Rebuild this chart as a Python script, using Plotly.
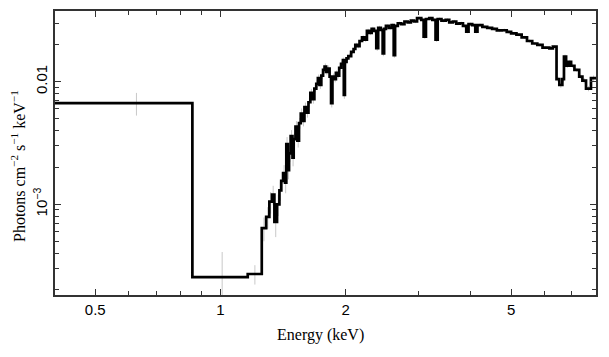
import plotly.graph_objects as go

# Bin edges (keV), N+1 values
energy_edges = [
    0.400, 0.856, 1.163, 1.257,
    1.288, 1.311, 1.330, 1.348, 1.368, 1.386, 1.400, 1.415, 1.430, 1.440,
    1.452, 1.462, 1.475, 1.490, 1.500, 1.515, 1.531, 1.545, 1.560, 1.575,
    1.592, 1.610, 1.628, 1.645, 1.664, 1.682, 1.700, 1.715, 1.730, 1.748,
    1.765, 1.780, 1.795, 1.810, 1.830, 1.845, 1.859, 1.880, 1.895, 1.911,
    1.930, 1.950, 1.970, 1.980, 1.992, 2.010, 2.030, 2.062, 2.090, 2.110,
    2.134, 2.160, 2.190, 2.219, 2.250, 2.281, 2.310, 2.340, 2.370, 2.395,
    2.430, 2.455, 2.475, 2.500, 2.540, 2.580, 2.610, 2.630, 2.670, 2.720,
    2.770, 2.820, 2.870, 2.920, 2.970, 3.040, 3.080, 3.120, 3.180, 3.233,
    3.290, 3.330, 3.400, 3.480, 3.550, 3.620, 3.690, 3.760, 3.830, 3.900,
    3.950, 4.030, 4.100, 4.150, 4.265, 4.380, 4.500, 4.620, 4.750, 4.880,
    5.000, 5.150, 5.300, 5.460, 5.620, 5.780, 5.950, 6.180, 6.300, 6.430,
    6.530, 6.640, 6.700, 6.780, 6.870, 6.970, 7.100, 7.290, 7.420, 7.570,
    7.780, 8.000,
]

# Flux per bin (photons cm^-2 s^-1 keV^-1)
flux = [
    6.7e-3, 2.55e-4, 2.7e-4,
    6.4e-4, 7.9e-4, 1.05e-3, 1.2e-3, 7.2e-4, 1.0e-3, 1.3e-3, 1.55e-3, 1.8e-3, 1.5e-3,
    3.1e-3, 1.9e-3, 2.6e-3, 3.6e-3, 2.4e-3, 3.4e-3, 4.3e-3, 3.3e-3, 4.6e-3, 5.5e-3,
    4.8e-3, 6.2e-3, 5.6e-3, 6.8e-3, 8.1e-3, 7.2e-3, 8.8e-3, 9.6e-3, 1.07e-2, 9.4e-3,
    1.12e-2, 1.25e-2, 1.33e-2, 1.2e-2, 1.28e-2, 1.1e-2, 6.7e-3, 1.1e-2, 1.05e-2, 1.18e-2,
    1.12e-2, 1.3e-2, 1.4e-2, 1.5e-2, 7.8e-3, 1.45e-2, 1.55e-2, 1.62e-2, 1.75e-2, 1.85e-2,
    2.0e-2, 1.95e-2, 2.15e-2, 2.3e-2, 2.2e-2, 2.6e-2, 2.5e-2, 2.7e-2, 2.6e-2, 1.88e-2,
    2.75e-2, 2.65e-2, 1.7e-2, 2.7e-2, 2.85e-2, 2.75e-2, 2.9e-2, 1.65e-2, 2.85e-2, 3.0e-2,
    2.95e-2, 3.1e-2, 3.05e-2, 3.15e-2, 3.1e-2, 3.3e-2, 3.2e-2, 2.33e-2, 3.25e-2, 3.3e-2,
    3.2e-2, 2.2e-2, 3.25e-2, 3.15e-2, 3.2e-2, 3.05e-2, 3.1e-2, 2.98e-2, 3.0e-2, 2.85e-2,
    2.56e-2, 2.95e-2, 2.9e-2, 2.56e-2, 2.9e-2, 2.8e-2, 2.75e-2, 2.7e-2, 2.62e-2, 2.63e-2,
    2.55e-2, 2.48e-2, 2.42e-2, 2.3e-2, 2.15e-2, 2.05e-2, 2.0e-2, 1.9e-2, 1.87e-2, 1.93e-2,
    1.05e-2, 9.4e-3, 1.05e-2, 1.6e-2, 1.35e-2, 1.45e-2, 1.35e-2, 1.25e-2, 1.1e-2, 1.02e-2,
    8.8e-3, 1.07e-2,
]

# 1-sigma error per bin, percent of flux
flux_err_pct = [
    21, 60, 18,
    22, 20, 20, 18, 25, 20, 18, 18, 16, 18,
    14, 16, 15, 12, 15, 12, 11, 12, 10, 10,
    10, 9, 9, 9, 8, 8, 7, 7, 7, 7,
    6, 6, 6, 6, 6, 6, 8, 6, 6, 5,
    5, 5, 5, 5, 7, 5, 5, 5, 4, 4,
    4, 4, 4, 4, 4, 4, 4, 4, 4, 5,
    4, 4, 5, 4, 3, 3, 3, 5, 3, 3,
    3, 3, 3, 3, 3, 3, 3, 4, 3, 3,
    3, 4, 3, 3, 3, 3, 3, 3, 3, 3,
    3, 3, 3, 3, 3, 3, 3, 3, 3, 3,
    3, 3, 3, 3, 3, 3, 3, 3, 3, 3,
    5, 5, 5, 4, 4, 4, 4, 4, 4, 5,
    5, 5,
]

x_major = [0.5, 1, 2, 5]
x_major_text = ["0.5", "1", "2", "5"]
x_minor = [0.4, 0.6, 0.7, 0.8, 0.9, 3, 4, 6, 7, 8]
y_major = [1e-3, 1e-2]
y_major_text = ["10<sup>\u22123</sup>", "0.01"]
y_minor = [2e-4, 3e-4, 4e-4, 5e-4, 6e-4, 7e-4, 8e-4, 9e-4,
           2e-3, 3e-3, 4e-3, 5e-3, 6e-3, 7e-3, 8e-3, 9e-3, 2e-2, 3e-2]

x_title = "Energy (keV)"
y_title = "Photons cm<sup>\u22122</sup> s<sup>\u22121</sup> keV<sup>\u22121</sup>"

# step line
step_x = list(energy_edges)
step_y = list(flux) + [flux[-1]]

centers = [(energy_edges[i] + energy_edges[i + 1]) / 2 for i in range(len(flux))]
err_abs = [f * p / 100 for f, p in zip(flux, flux_err_pct)]

fig = go.Figure()
fig.add_trace(go.Scatter(
    x=centers, y=flux, mode="markers",
    marker=dict(size=0.1, color="rgba(0,0,0,0)"),
    error_y=dict(type="data", array=err_abs, arrayminus=err_abs, visible=True,
                 color="#c8c8c8", thickness=1, width=0),
    hoverinfo="skip", showlegend=False,
))
fig.add_trace(go.Scatter(
    x=step_x, y=step_y, mode="lines",
    line=dict(shape="hv", color="black", width=2.7),
    showlegend=False,
))

axis_common = dict(
    showgrid=False, zeroline=False, automargin=False,
    showline=True, linecolor="#333333", linewidth=1.5, mirror="ticks",
    ticks="inside", ticklen=6, tickwidth=1.3, tickcolor="#333333",
    tickfont=dict(family="Liberation Sans, Arial, sans-serif", size=15, color="black"),
)

fig.update_xaxes(
    type="log", range=[0.6021 - 1, 0.9031],
    tickmode="array", tickvals=x_major, ticktext=x_major_text,
    minor=dict(tickmode="array", tickvals=x_minor, ticks="inside", ticklen=4,
               tickwidth=1.2, tickcolor="#333333", showgrid=False),
    **axis_common,
)
fig.update_yaxes(
    type="log", range=[-3.74, -1.423],
    tickmode="array", tickvals=y_major, ticktext=y_major_text, tickangle=-90,
    minor=dict(tickmode="array", tickvals=y_minor, ticks="inside", ticklen=4,
               tickwidth=1.2, tickcolor="#333333", showgrid=False),
    **axis_common,
)

title_font = dict(family="Liberation Serif, Times New Roman, serif", size=16, color="black")
fig.add_annotation(text=x_title, xref="paper", yref="paper",
                   x=(320 - 55) / 541, y=-(335 - 295) / 284,
                   xanchor="center", yanchor="middle", showarrow=False, font=title_font)
fig.add_annotation(text=y_title, xref="paper", yref="paper",
                   x=(18 - 55) / 541, y=(295 - 166) / 284, textangle=-90,
                   xanchor="center", yanchor="middle", showarrow=False, font=title_font)

fig.update_layout(
    width=609, height=357,
    margin=dict(l=55, r=13, t=11, b=62),
    paper_bgcolor="white", plot_bgcolor="white",
    showlegend=False,
)

fig.write_html("out.html", config={"displayModeBar": False},
               post_script="document.body.style.margin='0';")
